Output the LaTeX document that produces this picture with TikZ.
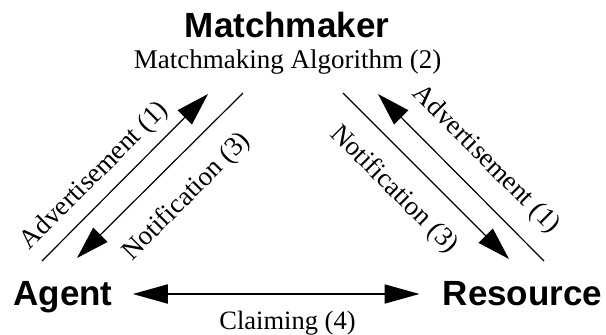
\documentclass[tikz,border=0pt]{standalone}
\usepackage{fontspec}
\setmainfont{Liberation Serif}
\newfontfamily\headfont{Liberation Sans}
\usetikzlibrary{arrows.meta}
\tikzset{
  headlbl/.style={font=\headfont\bfseries\fontsize{35}{40}\selectfont, inner sep=0pt, anchor=base},
  seriflbl/.style={font=\fontsize{27}{30}\selectfont, inner sep=0pt},
  flow/.style={line width=1.2pt, -{Triangle[length=33pt,width=20pt]}},
  claimarrow/.style={line width=1.8pt, {Triangle[length=35pt,width=19pt]}-{Triangle[length=35pt,width=19pt]}}
}
\begin{document}
\begin{tikzpicture}[x=1pt,y=-1pt]
\useasboundingbox (0,0) rectangle (606,335);
% main nodes
\node[headlbl] (mm) at (287,37) {Matchmaker};
\node[seriflbl, anchor=base] (alg) at (287.5,68) {Matchmaking Algorithm (2)};
\node[headlbl] (agent) at (63,305) {Agent};
\node[headlbl] (resource) at (522.5,305) {Resource};
% arrow end points
\coordinate (laS) at (42,261);
\coordinate (laE) at (208,94);
\coordinate (lnS) at (243,93);
\coordinate (lnE) at (77,258);
\coordinate (rnS) at (343,93);
\coordinate (rnE) at (509,259);
\coordinate (raS) at (544,261);
\coordinate (raE) at (378,94);
\coordinate (cl) at (0,294);
% diagonal flows
\draw[flow] (laS) -- (laE);
\draw[flow] (lnS) -- (lnE);
\draw[flow] (rnS) -- (rnE);
\draw[flow] (raS) -- (raE);
% claiming
\draw[claimarrow, shorten <=20pt, shorten >=23pt] (agent.east |- cl) -- (resource.west |- cl);
% labels
\node[seriflbl, rotate=45] (ladv) at (95,176) {Advertisement (1)};
\node[seriflbl, rotate=45] (lnot) at (187,197) {Notification (3)};
\node[seriflbl, rotate=-45] (rnot) at (394,190) {Notification (3)};
\node[seriflbl, rotate=-45] (radv) at (486,160) {Advertisement (1)};
\node[seriflbl, anchor=base, font=\fontsize{26.5}{30}\selectfont] (claim) at (287.5,329) {Claiming (4)};
\end{tikzpicture}
\end{document}
